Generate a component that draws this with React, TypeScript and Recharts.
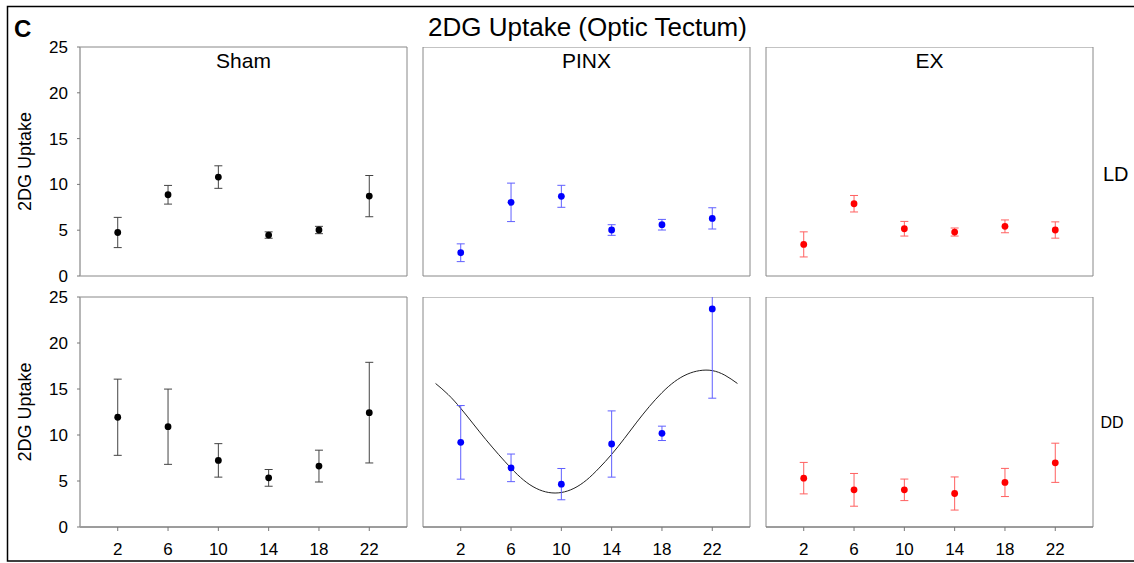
import React from 'react';
import { ComposedChart, Scatter, Line, XAxis, YAxis, ErrorBar, ReferenceArea } from 'recharts';

// ---- data ----
const hours = [2, 6, 10, 14, 18, 22];
const xTicks = [2, 6, 10, 14, 18, 22];
const yTicks = [0, 5, 10, 15, 20, 25];

const shamLD = [4.75, 8.87, 10.8, 4.47, 5.02, 8.72];
const shamLDErr = [1.65, 1.02, 1.23, 0.35, 0.4, 2.25];
const pinxLD = [2.54, 8.04, 8.7, 5.02, 5.6, 6.29];
const pinxLDErr = [0.97, 2.1, 1.2, 0.58, 0.58, 1.16];
const exLD = [3.45, 7.89, 5.16, 4.8, 5.42, 5.02];
const exLDErr = [1.37, 0.9, 0.8, 0.44, 0.7, 0.89];

const shamDD = [11.93, 10.9, 7.24, 5.34, 6.62, 12.43];
const shamDDErr = [4.14, 4.09, 1.82, 0.91, 1.73, 5.47];
const pinxDD = [9.2, 6.43, 4.66, 9.02, 10.18, 23.7];
const pinxDDErr = [4.0, 1.5, 1.7, 3.6, 0.78, 9.7];
const exDD = [5.31, 4.04, 4.04, 3.64, 4.84, 6.98];
const exDDErr = [1.71, 1.78, 1.17, 1.8, 1.53, 2.13];

// fitted curve of PINX DD, values at each hour
const fitHours = [0, 1, 2, 3, 4, 5, 6, 7, 8, 9, 10, 11, 12, 13, 14, 15, 16, 17, 18, 19, 20, 21, 22, 23, 24];
const pinxDDFit = [15.6, 14.4, 12.9, 11.2, 9.5, 7.9, 6.4, 5.1, 4.2, 3.75, 3.75, 4.2, 5.1, 6.4, 7.9, 9.6, 11.4, 13.1, 14.6, 15.8, 16.6, 17.0, 17.0, 16.5, 15.6];

const FONT = '"Liberation Sans", Arial, sans-serif';

const COL_LEFT = [80, 423, 766];
const PLOT_W = 327;
const ROW_TOP = [47, 297];
const ROW_H = [229, 230];

type PanelProps = {
  values: number[];
  errors: number[];
  color: string;
  errColor: string;
  col: number;
  row: number;
  fit?: number[];
};

function Panel({ values, errors, color, errColor, col, row, fit }: PanelProps) {
  const showY = col === 0;
  const showX = row === 1;
  const data = hours.map((h, i) => ({ x: h, y: values[i], err: errors[i] }));
  const fitData = fit ? fitHours.map((h, i) => ({ x: h, y: fit[i] })) : null;
  const ml = 5;
  const mt = showY ? 10 : 0;
  const mb = !showX && showY ? 12 : 2;
  const yw = showY ? 60 : 0;
  const xh = showX ? 30 : 0;
  const width = ml + yw + PLOT_W + 10;
  const height = mt + ROW_H[row] + xh + mb;
  const dot = (p: any) => <circle cx={p.cx} cy={p.cy} r={3.4} fill={color} />;
  return (
    <div style={{ position: 'absolute', left: COL_LEFT[col] - ml - yw, top: ROW_TOP[row] - mt }}>
      <ComposedChart width={width} height={height} margin={{ top: mt, right: 10, bottom: mb, left: ml }}>
        <XAxis
          type="number"
          dataKey="x"
          domain={[-1, 25]}
          ticks={xTicks}
          interval={0}
          hide={!showX}
          height={30}
          tickSize={4}
          tickMargin={12}
          allowDataOverflow
          tick={{ fontSize: 17, fill: '#000', fontFamily: FONT }}
          axisLine={{ stroke: '#777' }}
          tickLine={{ stroke: '#777' }}
        />
        <YAxis
          type="number"
          dataKey="y"
          domain={[0, 25]}
          ticks={yTicks}
          interval={0}
          hide={!showY}
          width={60}
          tickSize={3}
          tickMargin={9}
          allowDataOverflow
          tick={{ fontSize: 17, fill: '#000', fontFamily: FONT }}
          axisLine={{ stroke: '#aaa' }}
          tickLine={{ stroke: '#777' }}
        />
        <ReferenceArea x1={-1} x2={25} y1={0} y2={25} fill="none" stroke="#888" strokeWidth={1} ifOverflow="visible" />
        {fitData && (
          <Line
            data={fitData}
            dataKey="y"
            type="natural"
            stroke="#222"
            strokeWidth={1}
            dot={false}
            activeDot={false}
            isAnimationActive={false}
          />
        )}
        <Scatter data={data} dataKey="y" fill={color} shape={dot} isAnimationActive={false}>
          <ErrorBar dataKey="err" direction="y" width={4} stroke={errColor} strokeWidth={1} />
        </Scatter>
      </ComposedChart>
    </div>
  );
}

export default function App() {
  return (
    <div style={{ position: 'absolute', left: 0, top: 0, width: 1134, height: 563, background: '#fff', fontFamily: FONT }}>
      <Panel values={shamLD} errors={shamLDErr} color="#000" errColor="#444" col={0} row={0} />
      <Panel values={pinxLD} errors={pinxLDErr} color="#0000ff" errColor="#6060ff" col={1} row={0} />
      <Panel values={exLD} errors={exLDErr} color="#ff0000" errColor="#ff6060" col={2} row={0} />
      <Panel values={shamDD} errors={shamDDErr} color="#000" errColor="#444" col={0} row={1} />
      <Panel values={pinxDD} errors={pinxDDErr} color="#0000ff" errColor="#6060ff" col={1} row={1} fit={pinxDDFit} />
      <Panel values={exDD} errors={exDDErr} color="#ff0000" errColor="#ff6060" col={2} row={1} />
      <svg width={1134} height={563} style={{ position: 'absolute', left: 0, top: 0, pointerEvents: 'none' }}>
        <rect x={7.5} y={6.5} width={1140} height={554.5} fill="none" stroke="#000" strokeWidth={1.5} />
        <text x={14} y={37} fontSize={24} fontWeight="bold" fontFamily={FONT} fill="#000">C</text>
        <text x={587.5} y={36} fontSize={26} textAnchor="middle" fontFamily={FONT} fill="#000">2DG Uptake (Optic Tectum)</text>
        <text x={243.5} y={68} fontSize={21} textAnchor="middle" fontFamily={FONT} fill="#000">Sham</text>
        <text x={586.5} y={68} fontSize={21} textAnchor="middle" fontFamily={FONT} fill="#000">PINX</text>
        <text x={929.5} y={68} fontSize={21} textAnchor="middle" fontFamily={FONT} fill="#000">EX</text>
        <text x={1103} y={180.5} fontSize={20} fontFamily={FONT} fill="#000">LD</text>
        <text x={1100.5} y={427.5} fontSize={16} fontFamily={FONT} fill="#000">DD</text>
        <text transform="translate(31,161.5) rotate(-90)" fontSize={18} textAnchor="middle" fontFamily={FONT} fill="#000">2DG Uptake</text>
        <text transform="translate(31,412) rotate(-90)" fontSize={18} textAnchor="middle" fontFamily={FONT} fill="#000">2DG Uptake</text>
      </svg>
    </div>
  );
}
